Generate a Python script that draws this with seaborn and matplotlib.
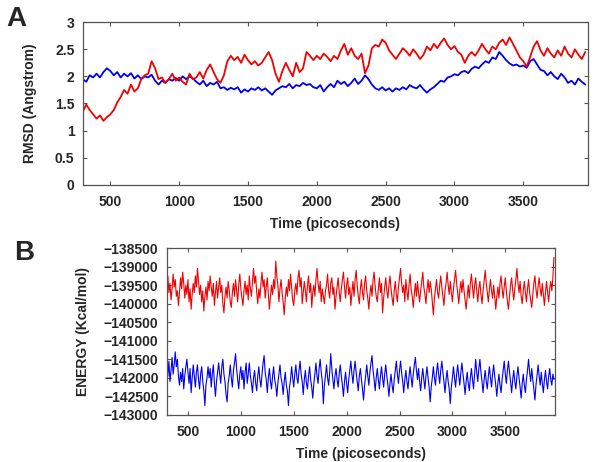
import numpy as np
import pandas as pd
import matplotlib.pyplot as plt
import seaborn as sns

sns.set_style("ticks")
plt.rcParams['font.family'] = ['Liberation Sans', 'DejaVu Sans']
plt.rcParams['font.weight'] = 'bold'

# RMSD, sampled every 25 ps
rmsd_time = np.arange(300, 3975, 25)
rmsd_red = [
    1.35, 1.48, 1.38, 1.30, 1.22, 1.28, 1.18, 1.25, 1.30, 1.38,
    1.52, 1.62, 1.75, 1.68, 1.85, 1.72, 1.78, 1.95, 2.02, 2.05,
    2.28, 2.15, 1.95, 1.98, 1.88, 1.95, 2.05, 1.92, 1.98, 1.90,
    1.85, 2.05, 1.95, 1.98, 2.08, 1.96, 2.12, 2.22, 2.08, 1.95,
    1.88, 2.02, 2.28, 2.38, 2.30, 2.36, 2.25, 2.40, 2.30, 2.22,
    2.28, 2.20, 2.25, 2.35, 2.45, 2.30, 2.05, 1.90, 2.10, 2.25,
    2.12, 2.00, 2.25, 2.08, 2.15, 2.45, 2.38, 2.30, 2.38, 2.32,
    2.42, 2.36, 2.28, 2.38, 2.32, 2.48, 2.60, 2.40, 2.52, 2.38,
    2.32, 2.42, 2.06, 2.20, 2.52, 2.58, 2.55, 2.68, 2.62, 2.48,
    2.40, 2.32, 2.42, 2.52, 2.46, 2.38, 2.50, 2.42, 2.32, 2.40,
    2.55, 2.48, 2.60, 2.52, 2.62, 2.70, 2.58, 2.50, 2.56, 2.45,
    2.40, 2.25, 2.38, 2.45, 2.38, 2.48, 2.60, 2.50, 2.42, 2.55,
    2.50, 2.62, 2.68, 2.58, 2.72, 2.60, 2.48, 2.35, 2.28, 2.18,
    2.36, 2.55, 2.65, 2.48, 2.38, 2.52, 2.42, 2.35, 2.48, 2.38,
    2.55, 2.42, 2.35, 2.50, 2.40, 2.32, 2.45,
]
rmsd_blue = [
    1.95, 1.90, 2.02, 1.98, 2.05, 1.98, 2.08, 2.15, 2.10, 2.02,
    2.08, 1.98, 2.05, 2.00, 2.06, 1.96, 2.02, 1.95, 2.00, 1.98,
    2.03, 1.92, 1.85, 1.92, 1.88, 1.95, 1.92, 1.97, 1.92, 2.00,
    1.95, 2.00, 1.96, 1.90, 1.85, 1.92, 1.82, 1.88, 1.85, 1.90,
    1.78, 1.80, 1.75, 1.79, 1.76, 1.80, 1.70, 1.76, 1.72, 1.78,
    1.75, 1.80, 1.74, 1.78, 1.72, 1.66, 1.74, 1.78, 1.82, 1.80,
    1.86, 1.78, 1.84, 1.82, 1.88, 1.84, 1.86, 1.80, 1.78, 1.84,
    1.72, 1.80, 1.86, 1.80, 1.92, 1.86, 1.90, 1.82, 1.88, 1.96,
    1.86, 1.92, 2.02, 1.95, 1.85, 1.78, 1.75, 1.80, 1.74, 1.78,
    1.72, 1.78, 1.75, 1.80, 1.76, 1.84, 1.80, 1.78, 1.84, 1.76,
    1.70, 1.76, 1.80, 1.86, 1.92, 1.90, 1.98, 2.00, 2.04, 2.02,
    2.08, 2.10, 2.06, 2.14, 2.18, 2.15, 2.22, 2.28, 2.25, 2.35,
    2.32, 2.45, 2.38, 2.30, 2.24, 2.20, 2.22, 2.18, 2.20, 2.16,
    2.28, 2.32, 2.22, 2.12, 2.10, 2.02, 2.08, 2.00, 1.95, 2.05,
    1.98, 1.88, 1.92, 1.85, 1.96, 1.90, 1.85,
]

# total energy, sampled every 10 ps
energy_time = np.arange(300, 3970, 10)
energy_red = [
    -139500, -139250, -139700, -139450, -139900, -139600, -139200, -139550, -139350, -139800,
    -139650, -140050, -139700, -139300, -139600, -139150, -139450, -139850, -139500, -139750,
    -139350, -139950, -139600, -140150, -139750, -139450, -139700, -139250, -139550, -139050,
    -139400, -139750, -139500, -139950, -139650, -140200, -139800, -139550, -139900, -139400,
    -139650, -139250, -139550, -139800, -139450, -140050, -139700, -139400, -139850, -139550,
    -139300, -139700, -139500, -140000, -140250, -139800, -139550, -139850, -139400, -139650,
    -139950, -140100, -139700, -139450, -139800, -139350, -139650, -139950, -139500, -139200,
    -139600, -139850, -140050, -139650, -139400, -139750, -139500, -139900, -139250, -139600,
    -139800, -139400, -139050, -139450, -139250, -139700, -140000, -139600, -139850, -139450,
    -139150, -139550, -139350, -139850, -139550, -139300, -139750, -140150, -139800, -139500,
    -139750, -139350, -139600, -138850, -139250, -139500, -139950, -139600, -139350, -139700,
    -139950, -140300, -139850, -139550, -139800, -139350, -139650, -139200, -139550, -139900,
    -140050, -139650, -139450, -139750, -139300, -139100, -139550, -139300, -140000, -139700,
    -139400, -139650, -139950, -139500, -139250, -139700, -139450, -140100, -139700, -139500,
    -139800, -139350, -139050, -139450, -139700, -139400, -139950, -139600, -139800, -140000,
    -139650, -139500, -139200, -139650, -139850, -139450, -139300, -139750, -139550, -140150,
    -139800, -139550, -139300, -139700, -139950, -139600, -139350, -139150, -139550, -139850,
    -139500, -139300, -139750, -139550, -140050, -139700, -139400, -139800, -139350, -139100,
    -139500, -139800, -140000, -139600, -139350, -139700, -139900, -139450, -139250, -139650,
    -139850, -140150, -139750, -139500, -139800, -139350, -139150, -139550, -139800, -139950,
    -139600, -139300, -139700, -139450, -140250, -139850, -139550, -139300, -139650, -139850,
    -139500, -139250, -139600, -139850, -140050, -139650, -139400, -139750, -139950, -139550,
    -139300, -139050, -139450, -139700, -139500, -139950, -139350, -139650, -139900, -139500,
    -139200, -139600, -139800, -140100, -139750, -139450, -139800, -139400, -139700, -139950,
    -139650, -139400, -139150, -139550, -139750, -140000, -139600, -139350, -139700, -139400,
    -139600, -139950, -140300, -139850, -139600, -139350, -139700, -139850, -139500, -139250,
    -139550, -139800, -140050, -139650, -139450, -139150, -139500, -139750, -139400, -139700,
    -139950, -139600, -139350, -139100, -139450, -139700, -140000, -139650, -139400, -139700,
    -139350, -139650, -139900, -140150, -139800, -139500, -139850, -139450, -139200, -139550,
    -139850, -139500, -139300, -139650, -139950, -139600, -139400, -139750, -140000, -139650,
    -139400, -139100, -139450, -139700, -139950, -139600, -139350, -139650, -139850, -139500,
    -139800, -140150, -139800, -139550, -139850, -139450, -139250, -139600, -139850, -139550,
    -139300, -139650, -139950, -140150, -139800, -139500, -139300, -139650, -139900, -139600,
    -139350, -139050, -139450, -139700, -139400, -139800, -140000, -139650, -139400, -139700,
    -139950, -139600, -139350, -139700, -139900, -140100, -139750, -139450, -139250, -139600,
    -139850, -139550, -139300, -139600, -139800, -139450, -139750, -140050, -139700, -139400,
    -139700, -139950, -139600, -139400, -139650, -139300, -138750,
]
energy_blue = [
    -141700, -141950, -141550, -142100, -141800, -141450, -141900, -141650, -141300, -141700,
    -141500, -141950, -142200, -141850, -142100, -141750, -142300, -141950, -141700, -141500,
    -141850, -142150, -141750, -142400, -142000, -141650, -141950, -142250, -141850, -141650,
    -142050, -142300, -141900, -141700, -142100, -142350, -142750, -142200, -142000, -141700,
    -142000, -141750, -142250, -141900, -141650, -142150, -142500, -142100, -141850, -141600,
    -141900, -142150, -141700, -141500, -141900, -142100, -142450, -142650, -142150, -141950,
    -141650, -142000, -142250, -141800, -141600, -141350, -141750, -142050, -142300, -141900,
    -141700, -142050, -141800, -142300, -141850, -141600, -142150, -141900, -141600, -141950,
    -142150, -142400, -142000, -141800, -142150, -142350, -141950, -141700, -142050, -142250,
    -141900, -141600, -141400, -141850, -142050, -142400, -142000, -141750, -142100, -142300,
    -141950, -141700, -142050, -142200, -142500, -142150, -141900, -141650, -142000, -142150,
    -142450, -142100, -141850, -142200, -142350, -142750, -142250, -142050, -141700, -142000,
    -142250, -141900, -141650, -142000, -142150, -141800, -141550, -141900, -142100, -142450,
    -142050, -141800, -142150, -142300, -141950, -141700, -142050, -142250, -142550, -142150,
    -141900, -141600, -141950, -142150, -141750, -141500, -141850, -142100, -142700, -142200,
    -141950, -141650, -142000, -142200, -141850, -141350, -141750, -142050, -142300, -141950,
    -141750, -142050, -142250, -141900, -141650, -141950, -142200, -142500, -142100, -141850,
    -142150, -142400, -142050, -141800, -141550, -141900, -142150, -141800, -141550, -141850,
    -142100, -142350, -141950, -141750, -142050, -142300, -142600, -142200, -141950, -141650,
    -141950, -142200, -141850, -141600, -141400, -141800, -142050, -142350, -142000, -141750,
    -142050, -142300, -141950, -141700, -142000, -142250, -141900, -141650, -141950, -142200,
    -142500, -142150, -141900, -142200, -142400, -142050, -141800, -141550, -141900, -142150,
    -141800, -141550, -141850, -142100, -142400, -142050, -141800, -142100, -142300, -141950,
    -141700, -142000, -142250, -141900, -141650, -141450, -141800, -142050, -141750, -142100,
    -142350, -142000, -141750, -142050, -142300, -141950, -141700, -142000, -142250, -142650,
    -142250, -142000, -141700, -142000, -142200, -141850, -141600, -141900, -142150, -141800,
    -141550, -141850, -142100, -142400, -142050, -141800, -142100, -142300, -142700, -142250,
    -142000, -141700, -142000, -142250, -141900, -141650, -141950, -142200, -141850, -141600,
    -141900, -142150, -142450, -142100, -141850, -142150, -142350, -142000, -141750, -142050,
    -142300, -141900, -141500, -141850, -142100, -141750, -141500, -141850, -142100, -142400,
    -142050, -141800, -142100, -142300, -141950, -141700, -142000, -142250, -141900, -141650,
    -141950, -142200, -142500, -142150, -141900, -142200, -142400, -142050, -141800, -141550,
    -141900, -142150, -141800, -141550, -141850, -142100, -142400, -142050, -141800, -142100,
    -142300, -141950, -141700, -142000, -142250, -142550, -142150, -141900, -142200, -142400,
    -142050, -141800, -141500, -141850, -142100, -141750, -142050, -142300, -142600, -142200,
    -141950, -141650, -141950, -142200, -141850, -142150, -142400, -142050, -141800, -142100,
    -142300, -141950, -141750, -142050, -142200, -141900, -142050,
]

df_rmsd = pd.DataFrame({'time': rmsd_time, 'red': rmsd_red, 'blue': rmsd_blue})
df_energy = pd.DataFrame({'time': energy_time, 'red': energy_red, 'blue': energy_blue})

fig = plt.figure(figsize=(6, 4.62), dpi=100)
ax1 = fig.add_axes([0.138, 0.600, 0.842, 0.352])
ax2 = fig.add_axes([0.278, 0.102, 0.647, 0.361])

# panel A
sns.lineplot(data=df_rmsd, x='time', y='blue', color='#0000f0', lw=1.3, ax=ax1)
sns.lineplot(data=df_rmsd, x='time', y='red', color='#f00000', lw=1.3, ax=ax1)
ax1.set_xlim(300, 3970)
ax1.set_ylim(0, 3)
ax1.set_xticks([500, 1000, 1500, 2000, 2500, 3000, 3500])
ax1.set_yticks([0, 0.5, 1, 1.5, 2, 2.5, 3])
ax1.set_yticklabels(['0', '0.5', '1', '1.5', '2', '2.5', '3'])
ax1.set_xlabel('Time (picoseconds)', fontsize=10, fontweight='bold', labelpad=6)
ax1.set_ylabel('RMSD (Angstrom)', fontsize=10, fontweight='bold', labelpad=13)

# panel B
sns.lineplot(data=df_energy, x='time', y='red', color='#f00000', lw=0.8, ax=ax2)
sns.lineplot(data=df_energy, x='time', y='blue', color='#0000f0', lw=0.8, ax=ax2)
ax2.set_xlim(300, 3970)
ax2.set_ylim(-143000, -138500)
ax2.set_xticks([500, 1000, 1500, 2000, 2500, 3000, 3500])
ax2.set_yticks(np.arange(-143000, -138000, 500))
ax2.set_xlabel('Time (picoseconds)', fontsize=10, fontweight='bold', labelpad=6)
ax2.set_ylabel('ENERGY (Kcal/mol)', fontsize=10, fontweight='bold', labelpad=10)

for ax in (ax1, ax2):
    ax.tick_params(direction='in', length=3, width=0.8, color='#555555',
                   labelsize=10, top=True, right=True)
    ax.tick_params(axis='x', pad=7)
    ax.tick_params(axis='y', pad=6)
    for lab in ax.get_xticklabels() + ax.get_yticklabels():
        lab.set_fontweight('bold')
    for sp in ax.spines.values():
        sp.set_color('#555555')
        sp.set_linewidth(0.9)
        sp.set_visible(True)

fig.text(0.028, 0.958, 'A', fontsize=20, fontweight='bold', va='center', ha='center')
fig.text(0.040, 0.452, 'B', fontsize=20, fontweight='bold', va='center', ha='center')

fig.savefig('out.png', dpi=100)
